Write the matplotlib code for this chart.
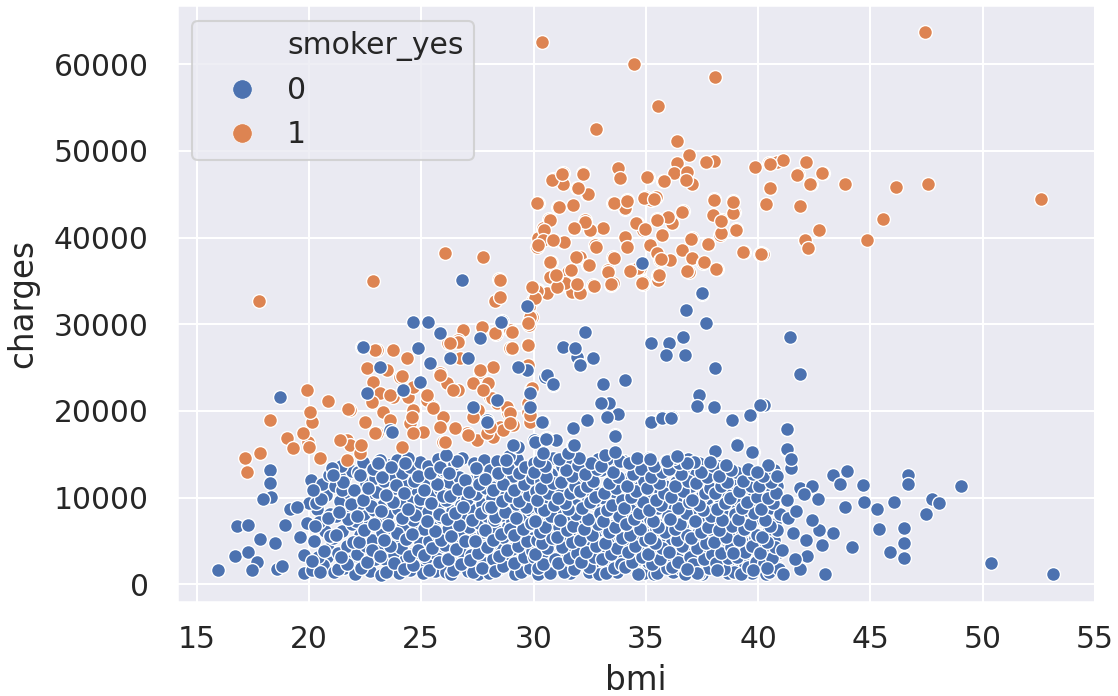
import matplotlib
matplotlib.use("Agg")
import matplotlib.pyplot as plt
from matplotlib.lines import Line2D
import seaborn as sns

# ---------------- data: bmi vs. insurance charges ----------------
# non-smokers, sparse points at low bmi
nonsmoker_left = [
    (15.96, 1694.8), (16.78, 6726), (17.30, 6842), (17.82, 5188), (18.49, 4726),
    (16.71, 3264), (17.30, 3764), (17.67, 2610), (17.45, 1648), (18.56, 1725),
    (18.26, 13189), (18.26, 11651), (18.29, 10035), (17.97, 9804), (20.07, 12035),
    (19.15, 8650), (19.90, 7034), (20.34, 8650), (18.93, 6842), (20.01, 9342),
    (19.79, 3379), (19.78, 1341), (20.79, 3187), (20.61, 1648), (18.71, 21651),
    (19.45, 8890), (18.80, 2150), (19.60, 5420),
]

# non-smokers, main mass below ~15000 (bmi 20-30)
nonsmoker_core_a = [
    (20.15, 1650), (20.62, 2240), (20.38, 3190), (20.85, 4120), (20.21, 5030),
    (20.70, 6180), (20.44, 7220), (20.93, 8090), (20.31, 9410), (20.77, 10350),
    (20.56, 11580), (20.90, 12650),
    (21.12, 1380), (21.55, 1920), (21.86, 2740), (21.30, 3560), (21.71, 4380),
    (21.08, 5290), (21.48, 6150), (21.93, 6990), (21.22, 7860), (21.64, 8720),
    (21.37, 9650), (21.80, 10480), (21.15, 11310), (21.58, 12190), (21.90, 13020),
    (21.44, 13640), (21.01, 13382), (21.45, 10881),
    (22.05, 1240), (22.71, 1530), (22.38, 2310), (22.93, 2880), (22.14, 3470),
    (22.56, 4460), (22.82, 5120), (22.27, 5740), (22.63, 6820), (22.09, 7310),
    (22.47, 8090), (22.88, 8540), (22.31, 9420), (22.69, 10240), (22.02, 10870),
    (22.52, 11690), (22.95, 12230), (22.19, 12960), (22.74, 13550), (22.42, 14110),
    (23.21, 1121.87), (23.66, 1710), (23.93, 2090), (23.38, 2860), (23.80, 3420),
    (23.07, 3890), (23.55, 4740), (23.89, 5360), (23.24, 6060), (23.71, 6490),
    (23.12, 7250), (23.47, 7980), (23.96, 8710), (23.29, 9150), (23.61, 9960),
    (23.04, 10640), (23.84, 11160), (23.35, 11870), (23.73, 12620), (23.17, 13140),
    (23.58, 13770), (23.92, 14380), (23.16, 14344),
    (24.03, 1350), (24.52, 1620), (24.87, 2410), (24.26, 2790), (24.68, 3560),
    (24.11, 4230), (24.94, 4870), (24.43, 5420), (24.79, 6240), (24.18, 6870),
    (24.61, 7410), (24.35, 8270), (24.90, 8830), (24.07, 9570), (24.57, 10080),
    (24.83, 10910), (24.30, 11460), (24.72, 12210), (24.15, 12790), (24.49, 13520),
    (24.96, 14060), (24.39, 14580),
    (25.09, 1270), (25.47, 1870), (25.91, 2180), (25.22, 3040), (25.63, 3630),
    (25.98, 4390), (25.35, 4960), (25.76, 5690), (25.14, 6420), (25.52, 6930),
    (25.87, 7760), (25.28, 8390), (25.69, 9010), (25.04, 9840), (25.41, 10470),
    (25.82, 11020), (25.19, 11740), (25.58, 12490), (25.94, 13060), (25.31, 13690),
    (25.73, 14470), (25.60, 1490),
    (26.12, 1420), (26.58, 1960), (26.91, 2620), (26.27, 3280), (26.73, 3810),
    (26.05, 4520), (26.44, 5170), (26.86, 5830), (26.21, 6370), (26.62, 7190),
    (26.97, 7840), (26.36, 8430), (26.79, 9180), (26.09, 9730), (26.51, 10520),
    (26.88, 11170), (26.25, 11820), (26.67, 12380), (26.02, 13210), (26.46, 13840),
    (26.83, 14550), (26.33, 1190),
    (27.06, 1560), (27.49, 2130), (27.84, 2470), (27.23, 3340), (27.67, 3930),
    (27.98, 4680), (27.36, 5230), (27.75, 5980), (27.11, 6630), (27.58, 7110),
    (27.92, 7920), (27.29, 8590), (27.70, 9240), (27.03, 9890), (27.44, 10380),
    (27.87, 11090), (27.18, 11910), (27.62, 12540), (27.95, 13120), (27.33, 13980),
    (27.78, 14290), (27.54, 1240),
    (28.03, 1310), (28.41, 1740), (28.77, 2390), (28.19, 2960), (28.92, 3520),
    (28.55, 4210), (28.10, 4790), (28.66, 5430), (28.35, 6110), (28.88, 6740),
    (28.24, 7380), (28.60, 8050), (28.97, 8610), (28.46, 9290), (28.14, 9980),
    (28.71, 10540), (28.30, 11210), (28.84, 11930), (28.52, 12480), (28.07, 13150),
    (28.63, 13790), (28.39, 14260),
    (29.18, 1190), (29.62, 1680), (29.91, 2260), (29.33, 2730), (29.74, 3490),
    (29.05, 4110), (29.51, 4660), (29.87, 5370), (29.26, 5980), (29.68, 6710),
    (29.02, 7260), (29.43, 8010), (29.83, 8520), (29.21, 9310), (29.57, 9850),
    (29.95, 10660), (29.37, 11180), (29.72, 11940), (29.09, 12510), (29.48, 13260),
    (29.89, 13710), (29.28, 14420),
]

# non-smokers, main mass below ~15000 (bmi 30-41)
nonsmoker_core_b = [
    (30.73, 1250), (30.18, 1830), (30.41, 2290), (30.96, 2970), (30.05, 3510),
    (30.62, 4180), (30.37, 4720), (30.84, 5390), (30.29, 6060), (30.51, 6590),
    (30.08, 7310), (30.77, 7880), (30.45, 8540), (30.93, 9170), (30.14, 9760),
    (30.66, 10490), (30.32, 11060), (30.88, 11690), (30.57, 12380), (30.02, 12930),
    (30.49, 13610), (30.25, 14270),
    (31.35, 1390), (31.82, 1710), (31.11, 2460), (31.58, 3080), (31.94, 3640),
    (31.27, 4260), (31.69, 4930), (31.03, 5510), (31.47, 6220), (31.76, 6770),
    (31.19, 7460), (31.91, 8090), (31.54, 8630), (31.38, 9340), (31.07, 9910),
    (31.63, 10580), (31.86, 11290), (31.22, 11830), (31.71, 12510), (31.44, 13140),
    (31.98, 13720), (31.15, 14480),
    (32.91, 1180), (32.46, 1960), (32.12, 2550), (32.67, 3190), (32.33, 3780),
    (32.78, 4410), (32.05, 5070), (32.59, 5640), (32.24, 6330), (32.85, 6940),
    (32.41, 7530), (32.97, 8210), (32.16, 8790), (32.52, 9470), (32.74, 10060),
    (32.09, 10710), (32.36, 11380), (32.63, 11950), (32.28, 12670), (32.81, 13260),
    (32.55, 13940), (32.02, 14590),
    (33.22, 1250), (33.57, 1830), (33.89, 2290), (33.04, 2970), (33.43, 3510),
    (33.71, 4180), (33.16, 4720), (33.95, 5390), (33.38, 6060), (33.62, 6590),
    (33.09, 7310), (33.81, 7880), (33.27, 8540), (33.49, 9170), (33.93, 9760),
    (33.13, 10490), (33.68, 11060), (33.34, 11690), (33.77, 12380), (33.53, 12930),
    (33.01, 13610), (33.86, 14270),
    (34.64, 1180), (34.07, 1960), (34.38, 2550), (34.83, 3190), (34.21, 3780),
    (34.52, 4410), (34.96, 5070), (34.31, 5640), (34.75, 6330), (34.13, 6940),
    (34.47, 7530), (34.68, 8210), (34.02, 8790), (34.89, 9470), (34.36, 10060),
    (34.58, 10710), (34.17, 11380), (34.94, 11950), (34.42, 12670), (34.79, 13260),
    (34.26, 13940), (34.61, 14590),
    (35.48, 1250), (35.93, 1830), (35.26, 2290), (35.61, 2970), (35.08, 3510),
    (35.74, 4180), (35.39, 4720), (35.17, 5390), (35.85, 6060), (35.53, 6590),
    (35.31, 7310), (35.97, 7880), (35.12, 8540), (35.66, 9170), (35.44, 9760),
    (35.81, 10490), (35.03, 11060), (35.57, 11690), (35.23, 12380), (35.72, 12930),
    (35.36, 13610), (35.88, 14270),
    (36.73, 1180), (36.18, 1960), (36.41, 2550), (36.96, 3190), (36.05, 3780),
    (36.62, 4410), (36.37, 5070), (36.84, 5640), (36.29, 6330), (36.51, 6940),
    (36.08, 7530), (36.77, 8210), (36.45, 8790), (36.93, 9470), (36.14, 10060),
    (36.66, 10710), (36.32, 11380), (36.88, 11950), (36.57, 12670), (36.02, 13260),
    (36.49, 13940), (36.25, 14590),
    (37.35, 1250), (37.82, 1830), (37.11, 2290), (37.58, 2970), (37.94, 3510),
    (37.27, 4180), (37.69, 4720), (37.03, 5390), (37.47, 6060), (37.76, 6590),
    (37.19, 7310), (37.91, 7880), (37.54, 8540), (37.38, 9170), (37.07, 9760),
    (37.63, 10490), (37.86, 11060), (37.22, 11690), (37.71, 12380), (37.44, 12930),
    (37.98, 13610), (37.15, 14100),
    (38.91, 1390), (38.46, 1710), (38.12, 2460), (38.67, 3080), (38.33, 3640),
    (38.78, 4260), (38.05, 4930), (38.59, 5510), (38.24, 6220), (38.85, 6770),
    (38.41, 7460), (38.97, 8090), (38.16, 8630), (38.52, 9340), (38.74, 9910),
    (38.09, 10580), (38.36, 11290), (38.63, 11830), (38.28, 12510), (38.81, 13140),
    (38.55, 13720),
    (39.22, 1180), (39.57, 1960), (39.89, 2550), (39.04, 3190), (39.43, 3780),
    (39.71, 4410), (39.16, 5070), (39.95, 5640), (39.38, 6330), (39.62, 6940),
    (39.09, 7530), (39.81, 8210), (39.27, 8790), (39.49, 9470), (39.93, 10060),
    (39.13, 10710), (39.68, 11380), (39.34, 11950), (39.77, 12670), (39.53, 13260),
    (40.48, 1390), (40.93, 1710), (40.26, 2460), (40.61, 3080), (40.08, 3640),
    (40.74, 4260), (40.39, 4930), (40.17, 5510), (40.85, 6220), (40.53, 6770),
    (40.31, 7460), (40.97, 8090), (40.12, 8630), (40.66, 9340), (40.44, 9910),
    (40.81, 10580), (40.03, 11290), (40.57, 11830), (40.23, 12510), (40.72, 13140),
]

# non-smokers, further points filling the main mass
nonsmoker_core_c = [
    (20.48, 1420), (20.12, 2710), (20.66, 3880), (20.95, 5540), (20.27, 6690),
    (20.83, 7640), (20.52, 9870), (20.18, 10880),
    (21.27, 1760), (21.68, 2360), (21.41, 3120), (21.95, 4870), (21.19, 5730),
    (21.75, 7480), (21.34, 8290), (21.89, 9240), (21.52, 11770), (21.06, 12620),
    (22.33, 1880), (22.59, 2620), (22.81, 3980), (22.21, 4860), (22.47, 6300),
    (22.91, 6960), (22.15, 7840), (22.77, 9010), (22.40, 9780), (22.62, 11080),
    (22.26, 12570), (22.85, 13340),
    (23.41, 1380), (23.79, 2480), (23.14, 3210), (23.62, 4370), (23.33, 5150),
    (23.91, 5880), (23.50, 6890), (23.19, 8410), (23.75, 9520), (23.42, 10330),
    (23.88, 11490), (23.27, 12350), (23.64, 13480), (23.06, 14020),
    (24.22, 1780), (24.64, 2260), (24.47, 3240), (24.86, 3980), (24.31, 5170),
    (24.58, 5780), (24.12, 7620), (24.74, 8020), (24.41, 8670), (24.95, 9810),
    (24.22, 10480), (24.66, 11930), (24.87, 12480), (24.29, 13980),
    (25.33, 1680), (25.78, 2610), (25.11, 3370), (25.46, 4190), (25.89, 5060),
    (25.62, 6160), (25.24, 7330), (25.79, 8120), (25.45, 9390), (25.95, 10160),
    (25.12, 10880), (25.71, 11570), (25.37, 12840), (25.84, 13510),
    (26.41, 1590), (26.77, 2290), (26.18, 2930), (26.55, 4110), (26.96, 4950),
    (26.31, 5540), (26.70, 6820), (26.14, 7520), (26.52, 8210), (26.87, 8880),
    (26.28, 10140), (26.63, 10980), (26.94, 12070), (26.22, 12790), (26.59, 14210),
    (27.31, 1390), (27.71, 1850), (27.15, 2780), (27.53, 3660), (27.91, 4290),
    (27.40, 4980), (27.83, 6270), (27.26, 7460), (27.64, 8240), (27.97, 8970),
    (27.13, 10680), (27.55, 11560), (27.86, 12130), (27.42, 13460),
    (28.27, 1520), (28.65, 2110), (28.44, 3240), (28.81, 3960), (28.18, 5110),
    (28.53, 5770), (28.93, 6390), (28.29, 7740), (28.72, 8310), (28.09, 8870),
    (28.58, 9630), (28.95, 10180), (28.21, 10870), (28.63, 11570), (28.42, 12800),
    (28.86, 13470),
    (29.46, 1440), (29.83, 1930), (29.15, 2490), (29.56, 3110), (29.93, 3840),
    (29.30, 4370), (29.71, 5010), (29.11, 5680), (29.54, 6370), (29.89, 7030),
    (29.24, 7640), (29.66, 8870), (29.36, 9590), (29.79, 10290), (29.14, 10920),
    (29.58, 11560), (29.95, 12250), (29.33, 12890), (29.63, 13520),
    (30.22, 1180), (30.57, 1960), (30.89, 2550), (30.04, 3190), (30.43, 3780),
    (30.71, 4410), (30.16, 5070), (30.95, 5640), (30.38, 6330), (30.62, 6940),
    (30.09, 7530), (30.81, 8210), (30.27, 8790), (30.49, 9470), (30.93, 10060),
    (30.13, 10710), (30.68, 11380), (30.34, 11950), (30.77, 12670), (30.53, 13260),
    (30.01, 13940), (30.86, 14590),
    (31.64, 1250), (31.07, 1830), (31.38, 2290), (31.83, 2970), (31.21, 3510),
    (31.52, 4180), (31.96, 4720), (31.31, 5390), (31.75, 6060), (31.13, 6590),
    (31.47, 7310), (31.68, 7880), (31.02, 8540), (31.89, 9170), (31.36, 9760),
    (31.58, 10490), (31.17, 11060), (31.94, 11690), (31.42, 12380), (31.79, 12930),
    (31.26, 13610), (31.61, 14270),
    (32.48, 1390), (32.93, 1710), (32.26, 2460), (32.61, 3080), (32.08, 3640),
    (32.74, 4260), (32.39, 4930), (32.17, 5510), (32.85, 6220), (32.53, 6770),
    (32.31, 7460), (32.97, 8090), (32.12, 8630), (32.66, 9340), (32.44, 9910),
    (32.81, 10580), (32.03, 11290), (32.57, 11830), (32.23, 12510), (32.72, 13140),
    (32.36, 13720), (32.88, 14480),
    (33.73, 1390), (33.18, 1710), (33.41, 2460), (33.96, 3080), (33.05, 3640),
    (33.62, 4260), (33.37, 4930), (33.84, 5510), (33.29, 6220), (33.51, 6770),
    (33.08, 7460), (33.77, 8090), (33.45, 8630), (33.93, 9340), (33.14, 9910),
    (33.66, 10580), (33.32, 11290), (33.88, 11830), (33.57, 12510), (33.02, 13140),
    (33.49, 13720), (33.25, 14480),
    (34.91, 1250), (34.46, 1830), (34.12, 2290), (34.67, 2970), (34.33, 3510),
    (34.78, 4180), (34.05, 4720), (34.59, 5390), (34.24, 6060), (34.85, 6590),
    (34.41, 7310), (34.97, 7880), (34.16, 8540), (34.52, 9170), (34.74, 9760),
    (34.09, 10490), (34.36, 11060), (34.63, 11690), (34.28, 12380), (34.81, 12930),
    (34.55, 13610), (34.02, 14270),
    (35.35, 1180), (35.82, 1960), (35.11, 2550), (35.58, 3190), (35.94, 3780),
    (35.27, 4410), (35.69, 5070), (35.03, 5640), (35.47, 6330), (35.76, 6940),
    (35.19, 7530), (35.91, 8210), (35.54, 8790), (35.38, 9470), (35.07, 10060),
    (35.63, 10710), (35.86, 11380), (35.22, 11950), (35.71, 12670), (35.44, 13260),
    (35.98, 13940), (35.15, 14590),
    (36.22, 1390), (36.57, 1710), (36.89, 2460), (36.04, 3080), (36.43, 3640),
    (36.71, 4260), (36.16, 4930), (36.95, 5510), (36.38, 6220), (36.62, 6770),
    (36.09, 7460), (36.81, 8090), (36.27, 8630), (36.49, 9340), (36.93, 9910),
    (36.13, 10580), (36.68, 11290), (36.34, 11830), (36.77, 12510), (36.53, 13140),
    (36.01, 13720), (36.86, 14480),
    (37.48, 1180), (37.93, 1960), (37.26, 2550), (37.61, 3190), (37.08, 3780),
    (37.74, 4410), (37.39, 5070), (37.17, 5640), (37.85, 6330), (37.53, 6940),
    (37.31, 7530), (37.97, 8210), (37.12, 8790), (37.66, 9470), (37.44, 10060),
    (37.81, 10710), (37.03, 11380), (37.57, 11950), (37.23, 12670), (37.72, 13260),
    (37.36, 13940),
    (38.64, 1250), (38.07, 1830), (38.38, 2290), (38.83, 2970), (38.21, 3510),
    (38.52, 4180), (38.96, 4720), (38.31, 5390), (38.75, 6060), (38.13, 6590),
    (38.47, 7310), (38.68, 7880), (38.02, 8540), (38.89, 9170), (38.36, 9760),
    (38.58, 10490), (38.17, 11060), (38.94, 11690), (38.42, 12380), (38.79, 12930),
    (38.26, 13610),
    (39.73, 1250), (39.18, 1830), (39.41, 2290), (39.96, 2970), (39.05, 3510),
    (39.62, 4180), (39.37, 4720), (39.84, 5390), (39.29, 6060), (39.51, 6590),
    (39.08, 7310), (39.77, 7880), (39.45, 8540), (39.93, 9170), (39.14, 9760),
    (39.66, 10490), (39.32, 11060), (39.88, 11690), (39.57, 12380), (39.02, 12930),
    (40.35, 1180), (40.82, 1960), (40.11, 2550), (40.58, 3190), (40.94, 3780),
    (40.27, 4410), (40.69, 5070), (40.03, 5640), (40.47, 6330), (40.76, 6940),
    (40.19, 7530), (40.91, 8210), (40.54, 8790), (40.38, 9470), (40.07, 10060),
    (40.63, 10710), (40.86, 11380), (40.22, 11950),
]

# non-smokers, bmi above 41 and upper stragglers on the right
nonsmoker_right = [
    (41.30, 17883), (41.30, 15498), (41.45, 13382), (41.86, 11073), (42.38, 11343),
    (42.65, 9804), (43.35, 12612), (43.94, 13112), (43.65, 11574), (44.68, 11420),
    (44.71, 9535), (45.28, 8650), (46.05, 9535), (43.87, 8958), (46.69, 12612),
    (46.69, 11574), (47.73, 9804), (48.07, 9419), (49.02, 11343), (47.47, 8073),
    (45.40, 6341), (46.49, 6457), (46.49, 4726), (46.49, 2995), (45.87, 3687),
    (44.20, 4264), (42.98, 1186), (50.38, 2438.06), (53.13, 1163.46), (41.86, 1726),
    (42.16, 3264), (42.86, 4534), (42.13, 5111), (43.35, 5880), (42.73, 6265),
    (41.09, 1186), (41.05, 3957), (41.35, 7611), (41.27, 9727), (40.38, 1841),
    (39.79, 1648), (38.90, 3572), (38.15, 1648), (37.26, 1264), (36.82, 1726),
    (40.26, 20691), (39.68, 19537), (38.82, 18960), (38.04, 20422), (37.29, 20691),
    (36.15, 19268), (35.29, 18767), (35.70, 19268), (39.04, 16152), (39.79, 15228),
    (38.08, 15382), (37.86, 14151), (36.82, 13959), (35.93, 14228), (35.19, 14459),
    (40.45, 13766), (40.83, 12497), (39.96, 12997), (41.40, 28499), (41.87, 24228),
    (41.28, 17880), (41.28, 15572), (41.45, 14495), (41.70, 8420), (42.40, 7380),
    (41.55, 5930), (41.62, 2890), (42.05, 10410), (33.20, 14960), (31.55, 15120),
    (26.10, 14870), (28.90, 14780), (36.40, 14850),
]

# non-smokers with charges well above the main mass
nonsmoker_high = [
    (26.80, 35116), (24.65, 30307), (25.31, 30307), (25.83, 28960), (28.58, 30422),
    (27.61, 28384), (29.69, 32115), (31.32, 27422), (31.92, 26268), (22.34, 27422),
    (24.87, 27230), (25.39, 25498), (26.28, 26075), (27.09, 26075), (23.16, 25114),
    (24.20, 22421), (24.94, 23382), (22.57, 22036), (29.69, 24729), (30.51, 23960),
    (30.88, 22998), (27.91, 18958), (27.32, 20497), (28.39, 21266), (29.84, 20497),
    (23.61, 17804), (29.25, 15880), (30.00, 16650), (30.58, 16842), (31.77, 17996),
    (30.43, 18766), (37.48, 33500), (36.81, 31654), (37.70, 30115), (32.29, 29153),
    (31.84, 27230), (32.06, 25306), (32.66, 26075), (35.25, 27807), (36.04, 27884),
    (36.66, 28499), (35.89, 26460), (36.74, 26460), (38.07, 24921), (33.10, 23113),
    (34.07, 23575), (33.03, 20882), (33.37, 20882), (33.77, 19651), (33.25, 19343),
    (37.38, 21844), (37.26, 20575), (38.03, 20498), (35.25, 18766), (35.70, 19151),
    (36.14, 19228), (38.82, 18958), (39.63, 19535), (40.08, 20690), (32.36, 18958),
    (31.77, 17997), (31.02, 16650), (30.55, 16843), (30.06, 16458), (29.32, 15881),
    (30.43, 15111), (31.77, 16073), (33.62, 17227), (33.62, 15304), (39.04, 16073),
    (39.71, 15304), (28.57, 30307), (30.58, 24152), (30.87, 23113), (29.84, 22036),
    (30.36, 18766), (27.91, 18766), (34.81, 37038), (37.48, 33576), (32.08, 25306),
    (32.64, 26075), (33.01, 20881), (33.61, 17111), (30.54, 16727), (31.79, 16073),
    (22.42, 27422), (24.20, 22421), (23.68, 17612), (29.10, 16073), (29.32, 25114),
    (28.76, 14342), (32.38, 18958),
]

# smokers, lower arm (mostly bmi < 30)
smoker_low = [
    (17.765, 32734.19), (22.86, 35039), (26.04, 38270), (27.76, 37808), (28.47, 35192),
    (28.28, 32730), (30.17, 33769), (29.99, 32807), (29.79, 32038), (29.91, 30807),
    (29.81, 29922), (29.77, 27614), (29.77, 25306), (29.88, 22498), (29.77, 19920),
    (29.84, 18766), (28.95, 29345), (29.05, 27229), (28.33, 28883), (27.69, 29537),
    (26.87, 29345), (26.65, 28191), (26.20, 27883), (27.61, 24536), (28.21, 25113),
    (28.06, 21651), (27.32, 23190), (26.65, 22421), (27.54, 20112), (28.88, 19728),
    (28.50, 18189), (28.36, 20881), (29.10, 18381), (29.77, 20881), (27.02, 17419),
    (27.46, 16650), (28.21, 17035), (28.65, 17804), (25.83, 24344), (26.13, 23190),
    (25.54, 20497), (25.98, 19343), (25.83, 18189), (25.98, 16458), (25.24, 21267),
    (24.65, 20112), (24.50, 18574), (25.09, 17612), (24.35, 26075), (23.75, 27037),
    (23.01, 27037), (22.57, 24921), (22.86, 23382), (23.16, 22036), (23.75, 21651),
    (24.42, 21651), (24.65, 22806), (24.05, 23960), (23.46, 24729), (22.79, 21074),
    (23.31, 19920), (23.61, 18958), (23.01, 17419), (22.49, 18766), (21.83, 20112),
    (21.68, 16650), (21.83, 16073), (21.38, 16650), (22.27, 15111), (21.68, 14342),
    (20.49, 14533), (19.97, 16458), (20.12, 18766), (20.04, 19920), (19.90, 22421),
    (20.86, 21190), (19.01, 16842), (19.30, 15688), (19.75, 17419), (18.26, 18958),
    (17.82, 15111), (17.15, 14533), (17.22, 12994), (24.12, 15880), (24.13, 24037),
    (25.24, 21844), (25.54, 20305), (24.57, 19344), (24.62, 17420), (26.06, 16458),
    (25.83, 24152), (26.43, 22421), (26.65, 27999), (27.69, 29730), (28.28, 28961),
    (29.02, 29153), (28.95, 27230), (27.61, 24729), (27.98, 23190), (28.13, 21459),
    (28.80, 20497), (27.32, 19343), (27.09, 17227), (27.91, 17420), (26.72, 26076),
    (26.28, 27807), (22.94, 27037), (23.61, 21844), (22.94, 17420), (21.75, 20190),
    (29.84, 30885), (29.76, 30115), (29.02, 27230), (29.76, 27614), (29.91, 22613),
    (29.84, 19535), (28.95, 19728), (28.06, 18189), (27.76, 22421), (28.95, 18574),
    (30.21, 33962), (31.02, 34347), (31.62, 34155), (32.66, 34424), (33.47, 34539),
    (34.88, 34654), (35.55, 35116), (20.01, 15800), (22.30, 16020), (26.50, 17990),
]

# smokers, upper cluster (mostly bmi > 30)
smoker_high = [
    (30.36, 62592.87), (34.485, 60021.4), (47.41, 63770.43), (38.095, 58571.07),
    (35.53, 55135.4), (32.80, 52590.83), (36.40, 51194.56),
    (36.93, 49579), (36.37, 48579), (36.25, 47425), (36.79, 46732), (37.07, 46194),
    (35.78, 46578), (35.08, 47040), (33.85, 46848), (33.77, 48002), (37.66, 48771),
    (38.03, 48887), (39.86, 48194), (40.50, 48579), (40.82, 48771), (41.12, 48964),
    (42.11, 48694), (41.79, 47309), (42.87, 47502), (42.34, 46155), (43.86, 46194),
    (46.16, 45809), (47.57, 46155), (52.58, 44501.4), (40.55, 45694), (40.35, 43886),
    (41.86, 43693), (45.54, 42112.2), (42.71, 40885), (42.08, 39731), (42.23, 38769),
    (44.86, 39731), (40.20, 38115), (39.37, 38307), (38.03, 44463), (38.89, 44232),
    (38.92, 43001), (38.37, 42039), (38.00, 42616), (39.01, 40962), (38.30, 40308),
    (37.78, 39231), (37.04, 39923), (36.64, 43116), (36.15, 41654), (35.48, 42116),
    (34.96, 44655), (35.45, 44655), (35.21, 44346), (34.07, 43270), (34.14, 44347),
    (33.55, 44040), (32.18, 47425), (31.32, 47425), (30.85, 46732), (31.92, 45694),
    (32.39, 45040), (31.77, 43770), (31.10, 43578), (30.21, 44040), (30.70, 42116),
    (30.43, 41077), (30.21, 39923), (30.88, 39731), (31.32, 39538), (30.14, 38961),
    (31.80, 41077), (32.29, 42039), (32.51, 40885), (33.10, 41077), (32.73, 39154),
    (32.07, 37807), (30.73, 37230), (30.95, 35691), (31.55, 36076), (30.14, 33961),
    (31.03, 34345), (31.70, 33768), (32.66, 34537), (33.52, 34730), (33.33, 36268),
    (32.44, 36846), (33.55, 37807), (34.14, 39038), (34.59, 41654), (34.89, 40885),
    (35.70, 40308), (35.18, 39154), (35.48, 38192), (35.63, 37423), (36.07, 37423),
    (36.59, 38577), (37.04, 37615), (36.93, 36076), (37.56, 37038), (38.15, 36345),
    (35.55, 35691), (34.89, 34922), (34.37, 36268), (34.74, 36461), (39.34, 38384),
    (40.13, 38192), (28.50, 35114), (30.58, 33653), (31.40, 34730), (32.07, 33576),
    (31.92, 34653), (35.69, 37500), (35.57, 35690), (34.85, 34728), (34.63, 36460),
    (34.29, 36191), (33.58, 37613), (33.32, 36075), (33.44, 34613), (32.67, 34459),
    (34.56, 41653), (34.97, 40961), (34.09, 40114), (34.17, 38960), (32.52, 40884),
    (32.76, 38960), (32.28, 41845), (31.79, 41076), (32.42, 45000), (32.20, 47308),
    (31.14, 43577), (30.17, 43961), (31.98, 45692), (31.33, 46193), (30.83, 46654),
    (31.26, 47347), (30.75, 42038), (30.46, 40884), (30.41, 39730), (30.15, 38960),
    (30.85, 39730), (31.36, 39538), (30.77, 37228), (31.00, 35614), (30.71, 35498),
    (31.06, 34267), (30.15, 33844), (31.91, 37805), (32.45, 36845), (31.65, 36268),
    (28.50, 33190), (38.35, 40500), (38.89, 42807), (38.89, 44154), (38.04, 44346),
    (38.35, 41961), (37.77, 39230), (37.02, 39807), (37.61, 37151), (36.85, 36191),
    (36.61, 42961), (36.17, 41730), (36.00, 42346), (35.71, 40306), (35.49, 42038),
    (34.94, 44538), (35.38, 44461), (35.06, 47039), (35.83, 46539), (33.83, 46847),
    (34.07, 43384), (33.58, 43961), (34.17, 44230), (38.14, 36345), (39.03, 40884),
    (40.54, 45692), (40.53, 48500), (36.85, 47617), (36.81, 46654), (37.68, 48770),
    (41.75, 47270), (42.32, 46154), (42.86, 47500), (40.08, 38076), (42.09, 39730),
    (42.21, 38768), (40.12, 38116), (30.73, 37231), (31.00, 35693), (30.21, 39155),
    (30.88, 39732), (30.06, 33000), (29.95, 34250),
]

hue_title = "smoker_yes"
hue_levels = ["0", "1"]
x_ticks = [15, 20, 25, 30, 35, 40, 45, 50, 55]
y_ticks = [0, 10000, 20000, 30000, 40000, 50000, 60000]

# ---------------- styling ----------------
sns.set_theme(style="darkgrid", context="talk")
plt.rcParams["font.family"] = ["DejaVu Sans"]
palette = sns.color_palette("deep")
c0, c1 = palette[0], palette[1]

fig = plt.figure(figsize=(11.18, 6.96), dpi=100)
ax = fig.add_axes([0.1579, 0.1355, 0.8215, 0.858])


def unzip(points):
    return [p[0] for p in points], [p[1] for p in points]


marker_kw = dict(s=100, edgecolor="white", linewidth=1.0)

for grp in (nonsmoker_left, nonsmoker_core_a, nonsmoker_core_c,
            nonsmoker_core_b, nonsmoker_right):
    x, y = unzip(grp)
    ax.scatter(x, y, color=c0, zorder=2, **marker_kw)

for grp in (smoker_low, smoker_high):
    x, y = unzip(grp)
    ax.scatter(x, y, color=c1, zorder=3, **marker_kw)

x, y = unzip(nonsmoker_high)
ax.scatter(x, y, color=c0, zorder=4, **marker_kw)

ax.set_xticks(x_ticks)
ax.set_yticks(y_ticks)
ax.set_xticklabels([str(t) for t in x_ticks])
ax.set_yticklabels([str(t) for t in y_ticks])
ax.tick_params(axis="x", labelsize=21.4, pad=7.5, colors="#262626")
ax.tick_params(axis="y", labelsize=21.4, pad=11, colors="#262626")

ax.set_xlabel("bmi", fontsize=23.5, color="#262626")
ax.set_ylabel("charges", fontsize=23.5, color="#262626")
ax.xaxis.set_label_coords(0.5, -0.105)
ax.yaxis.set_label_coords(-0.149, 0.5)

handles = [
    Line2D([], [], linestyle="", marker=None),
    Line2D([], [], linestyle="", marker="o", markersize=14, color=c0,
           markeredgecolor="white", markeredgewidth=0.5),
    Line2D([], [], linestyle="", marker="o", markersize=14, color=c1,
           markeredgecolor="white", markeredgewidth=0.5),
]
leg = ax.legend(handles, [hue_title] + hue_levels, loc="upper left",
                bbox_to_anchor=(0.0169, 0.9724), borderaxespad=0,
                fontsize=21.5, frameon=True, handlelength=2.62,
                handletextpad=0.21, labelspacing=0.5, borderpad=0.35)
for t in leg.get_texts():
    t.set_color("#262626")

fig.savefig("out.png", dpi=100)
